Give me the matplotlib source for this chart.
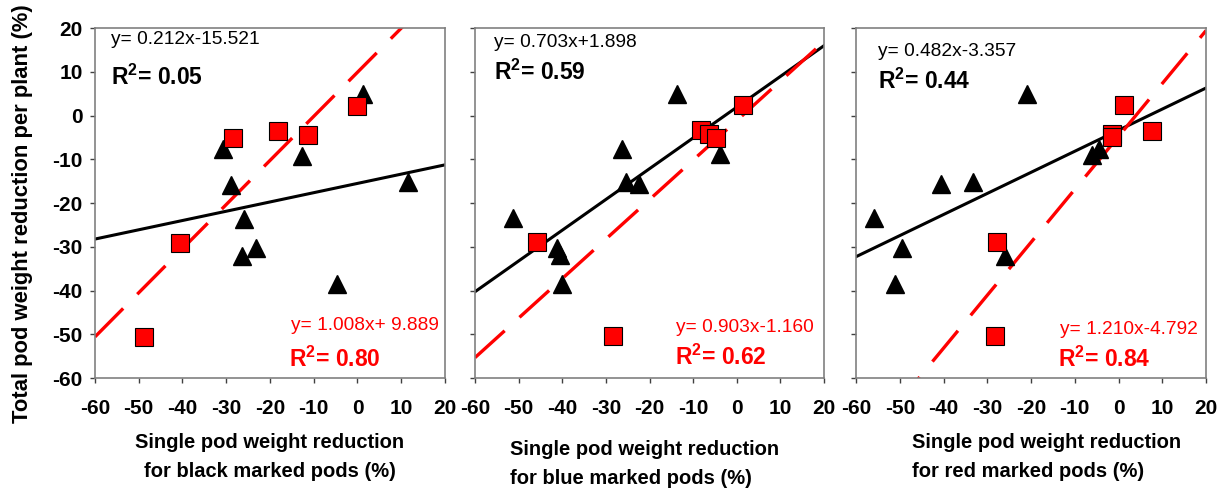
import matplotlib.pyplot as plt
import numpy as np

# panel 1: black marked pods
p1_tri_x = [-30.7, 1.2, -12.7, -28.8, 11.5, -25.9, -23.3, -26.5, -4.6]
p1_tri_y = [-7.7, 5.0, -9.2, -15.9, -15.1, -23.6, -30.3, -32.1, -38.6]
p1_sq_x = [-48.8, -40.6, -28.5, -18.2, -11.4, -0.2]
p1_sq_y = [-50.6, -29.1, -5.1, -3.6, -4.4, 2.2]

# panel 2: blue marked pods
p2_tri_x = [-51.2, -41.3, -40.5, -40.0, -26.4, -25.3, -22.5, -13.6, -3.9]
p2_tri_y = [-23.5, -30.2, -31.8, -38.4, -7.7, -15.3, -15.7, 5.0, -8.8]
p2_sq_x = [-45.7, -28.3, -8.3, -6.3, -4.8, 1.5]
p2_sq_y = [-28.9, -50.4, -3.4, -4.3, -5.1, 2.4]

# panel 3: red marked pods
p3_tri_x = [-55.8, -49.5, -51.0, -40.5, -33.3, -26.0, -20.9, -6.1, -4.5]
p3_tri_y = [-23.5, -30.3, -38.6, -15.7, -15.1, -32.1, 5.0, -9.0, -7.7]
p3_sq_x = [-27.8, -28.3, -1.5, -1.6, 1.3, 7.6]
p3_sq_y = [-29.0, -50.5, -4.3, -5.0, 2.4, -3.5]

# fit lines (slope, intercept) and R2 as printed
black_fit = [(0.212, -15.521), (0.703, 1.898), (0.482, -3.357)]
red_fit = [(1.008, 9.889), (0.903, -1.160), (1.210, -4.792)]
black_eq = ['y= 0.212x-15.521', 'y= 0.703x+1.898', 'y= 0.482x-3.357']
red_eq = ['y= 1.008x+ 9.889', 'y= 0.903x-1.160', 'y= 1.210x-4.792']
black_r2 = ['0.05', '0.59', '0.44']
red_r2 = ['0.80', '0.62', '0.84']
xlabels = ['Single pod weight reduction\nfor black marked pods (%)',
           'Single pod weight reduction\nfor blue marked pods (%)',
           'Single pod weight reduction\nfor red marked pods (%)']
xticks = [-60, -50, -40, -30, -20, -10, 0, 10, 20]
yticks = [-60, -50, -40, -30, -20, -10, 0, 10, 20]

text_font = ['Liberation Sans', 'DejaVu Sans']
plt.rcParams['font.family'] = text_font
plt.rcParams['mathtext.fontset'] = 'custom'
plt.rcParams['mathtext.rm'] = 'Liberation Sans'
plt.rcParams['mathtext.bf'] = 'Liberation Sans:bold'

fig = plt.figure(figsize=(12.27, 4.88), dpi=100)

lefts = [95, 475, 856]
widths = [350, 349, 350]
tri_xs = [p1_tri_x, p2_tri_x, p3_tri_x]
tri_ys = [p1_tri_y, p2_tri_y, p3_tri_y]
sq_xs = [p1_sq_x, p2_sq_x, p3_sq_x]
sq_ys = [p1_sq_y, p2_sq_y, p3_sq_y]
# text positions in axes fraction
beq_pos = [(0.045, 0.968), (0.055, 0.958), (0.064, 0.934)]
br2_pos = [(0.045, 0.86), (0.055, 0.873), (0.064, 0.849)]
req_pos = [(0.983, 0.151), (0.971, 0.143), (0.976, 0.14)]
rr2_pos = [(0.554, 0.053), (0.573, 0.059), (0.577, 0.053)]
xlab_pos = [(270, 'center', 457), (510, 'left', 464), (912, 'left', 457)]

xx = np.array([-60, 20])
for i in range(3):
    ax = fig.add_axes([lefts[i] / 1227, 110 / 488, widths[i] / 1227, 350 / 488])
    ax.set_xlim(-60, 20)
    ax.set_ylim(-60, 20)
    for s in ax.spines.values():
        s.set_color('#808080')
        s.set_linewidth(1.2)
    ax.set_xticks(xticks)
    ax.set_yticks(yticks)
    ax.tick_params(axis='x', direction='out', length=3.8, width=1, color='#404040', pad=11)
    ax.tick_params(axis='y', direction='out', length=3.8, width=1, color='#404040', pad=5)
    ax.set_xticklabels([str(t) for t in xticks], fontweight='bold', fontsize=15)
    if i == 0:
        ax.set_yticklabels([str(t) for t in yticks], fontweight='bold', fontsize=15)
    else:
        ax.set_yticklabels([])

    m, c = black_fit[i]
    ax.plot(xx, m * xx + c, color='black', lw=2.2, zorder=2)
    m, c = red_fit[i]
    ax.plot(xx, m * xx + c, color='#ff0000', lw=2.4, linestyle=(0, (12, 6)), zorder=2)

    ax.plot(tri_xs[i], tri_ys[i], '^', color='black', markersize=12.5, zorder=3)
    ax.plot(sq_xs[i], sq_ys[i], 's', markerfacecolor='#ff0000', markeredgecolor='black',
            markeredgewidth=0.8, markersize=12.5, zorder=4)

    ax.text(*beq_pos[i], black_eq[i], transform=ax.transAxes, fontsize=13.8,
            ha='left', va='center', color='black')
    ax.text(*br2_pos[i], r'$\mathbf{R^2}$= ' + black_r2[i], transform=ax.transAxes,
            fontsize=16.5, fontweight='bold', ha='left', va='center', color='black')
    ax.text(*req_pos[i], red_eq[i], transform=ax.transAxes, fontsize=13.8,
            ha='right', va='center', color='#ff0000')
    ax.text(*rr2_pos[i], r'$\mathbf{R^2}$= ' + red_r2[i], transform=ax.transAxes,
            fontsize=16.5, fontweight='bold', ha='left', va='center', color='#ff0000')

    xp, ha, yc = xlab_pos[i]
    fig.text(xp / 1227, 1 - yc / 488, xlabels[i], fontsize=14.5, fontweight='bold',
             ha=ha, va='center', linespacing=1.65)

fig.text(23 / 1227, 1 - 214 / 488, 'Total pod weight reduction per plant (%)',
         rotation=90, fontsize=15.8, fontweight='bold', ha='center', va='center')

fig.savefig('out.png', dpi=100)
